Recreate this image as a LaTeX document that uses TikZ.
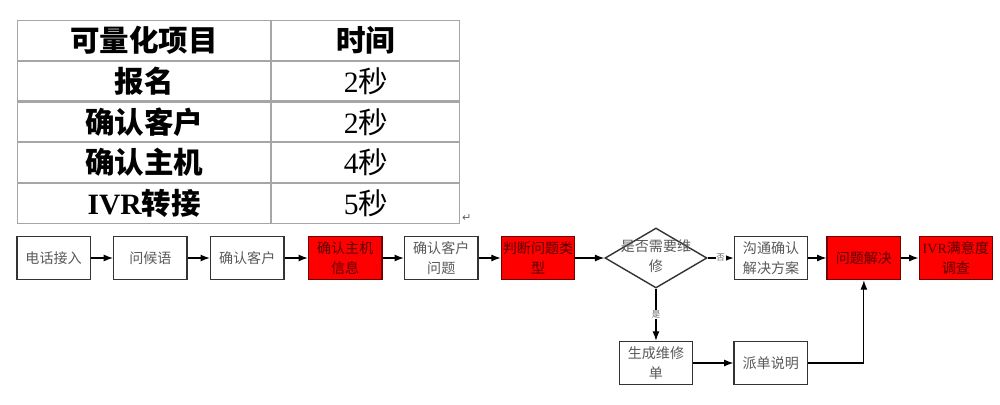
\documentclass[tikz,border=0pt]{standalone}
\usepackage{fontspec}
\setmainfont{Liberation Serif}
\newfontfamily\cjk{Noto Sans CJK SC}
\newfontfamily\symfont{DejaVu Sans}
\usetikzlibrary{positioning, shapes.geometric, arrows.meta}

\begin{document}
\begin{tikzpicture}[
		>=Latex,
		every node/.style={font=\cjk\fontsize{10}{14}\selectfont},
		cell/.style={draw=gray!70, line width=0.8pt, minimum height=0.99cm, inner sep=0pt, font=\cjk\bfseries\fontsize{21}{24}\selectfont},
		timecell/.style={cell, minimum width=4.7cm, font=\cjk\fontsize{21}{24}\selectfont},
		flowbox/.style={draw=black!80, line width=1pt, text width=1.8cm, minimum height=1.08cm, inner sep=0.5pt, align=center, text=black!65},
		hotbox/.style={flowbox, fill=red, draw=red!45!black, text=red!35!black},
		decision/.style={diamond, draw=black!80, line width=1pt, minimum width=2.55cm, minimum height=1.5cm, inner sep=0pt},
		link/.style={->, line width=0.8pt, black},
		tag/.style={font=\cjk\fontsize{6}{7}\selectfont, fill=white, inner sep=0.5pt, text=black!60},
		]
		\useasboundingbox (0,0) rectangle (25,-10.1);
		
		% Table of quantifiable items
		\node[cell, minimum width=6.33cm, anchor=north west] (h1) at (0.425,-0.5) {可量化项目};
		\node[cell, minimum width=4.7cm, right=0pt of h1] (h2) {时间};
		\node[cell, minimum width=6.33cm, below=0pt of h1] (a1) {报名};
		\node[timecell, right=0pt of a1] (a2) {{\rmfamily 2}秒};
		\node[cell, minimum width=6.33cm, below=0pt of a1] (b1) {确认客户};
		\node[timecell, right=0pt of b1] (b2) {{\rmfamily 2}秒};
		\node[cell, minimum width=6.33cm, below=0pt of b1] (c1) {确认主机};
		\node[timecell, right=0pt of c1] (c2) {{\rmfamily 4}秒};
		\node[cell, minimum width=6.33cm, below=0pt of c1] (d1) {{\rmfamily IVR}转接};
		\node[timecell, right=0pt of d1] (d2) {{\rmfamily 5}秒};
		\node[font=\symfont\fontsize{8}{8}\selectfont, text=black!60, anchor=south west, inner sep=1pt] (ret) at (d2.south east) {↵};
		
		% Main row of the call flow
		\node[flowbox] (call) at (1.34,-6.45) {电话接入};
		\node[flowbox, right=5.5mm of call] (greet) {问候语};
		\node[flowbox, right=5.5mm of greet] (client) {确认客户};
		\node[hotbox, right=5.8mm of client] (host) {确认主机\\信息};
		\node[flowbox, right=5.3mm of host] (issue) {确认客户\\问题};
		\node[hotbox, right=5.5mm of issue] (kind) {判断问题类\\型};
		\node[decision, right=7.2mm of kind] (repair) {};
		\node[align=center, text=black!65] (repairtxt) at ([yshift=0.5mm]repair.center) {是否需要维\\修};
		\node[flowbox, right=6.5mm of repair] (plan) {沟通确认\\解决方案};
		\node[hotbox, right=4.5mm of plan] (solve) {问题解决};
		\node[hotbox, right=4.3mm of solve] (survey) {{\rmfamily IVR}满意度\\调查};
		
		% Lower branch
		\node[flowbox, below=1.3cm of repair] (order) {生成维修\\单};
		\node[flowbox, right=1cm of order] (dispatch) {派单说明};
		
		% Arrows along the main row
		\draw[link] (call) -- (greet);
		\draw[link] (greet) -- (client);
		\draw[link] (client) -- (host);
		\draw[link] (host) -- (issue);
		\draw[link] (issue) -- (kind);
		\draw[link] (kind) -- (repair);
		\draw[link] (repair) -- node[tag]{否} (plan);
		\draw[link] (plan) -- (solve);
		\draw[link] (solve) -- (survey);
		
		% Arrows of the repair branch
		\draw[link] (repair) -- node[tag]{是} (order);
		\draw[link] (order) -- (dispatch);
		\draw[link] (dispatch.east) -| (solve.south);
		
	\end{tikzpicture}
\end{document}
